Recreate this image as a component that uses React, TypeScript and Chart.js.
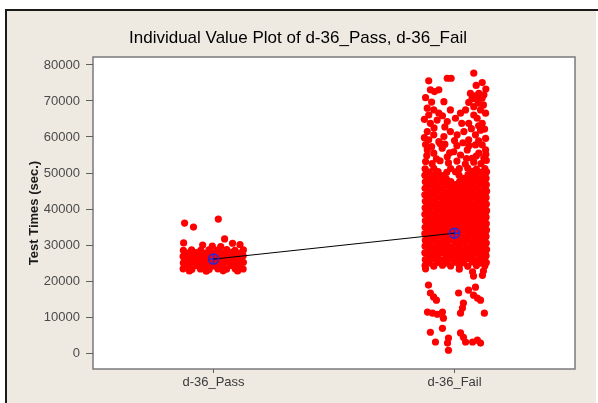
import React, { useEffect, useRef } from 'react';
import { Chart, registerables } from 'chart.js';

Chart.register(...registerables);

const chartTitle = 'Individual Value Plot of d-36_Pass, d-36_Fail';
const yAxisLabel = 'Test Times (sec.)';
const categories = ['d-36_Pass', 'd-36_Fail'];
const yTicks = [0, 10000, 20000, 30000, 40000, 50000, 60000, 70000, 80000];
const groupMeans = [26100, 33300];

// Individual values: [jitter within the category, test time in seconds]
const passPoints: [number, number][] = [
  [-0.126, 23400], [-0.09, 23250], [-0.054, 23350], [-0.018, 23200], [0.018, 23400], [0.054, 23300], [0.09, 23450], [0.123, 23350],
  [-0.108, 24150], [-0.072, 24300], [-0.036, 24100], [0.0, 24250], [0.036, 24200], [0.072, 24350], [0.106, 24150],
  [-0.125, 25050], [-0.091, 25200], [-0.053, 25000], [-0.019, 25150], [0.017, 25100], [0.055, 25250], [0.089, 25050], [0.124, 25200],
  [-0.107, 25950], [-0.073, 26100], [-0.035, 25900], [0.001, 26050], [0.037, 26000], [0.071, 26150], [0.107, 25950],
  [-0.126, 26850], [-0.09, 27000], [-0.054, 26800], [-0.018, 26950], [0.018, 26900], [0.054, 27050], [0.09, 26850], [0.123, 27000],
  [-0.108, 27750], [-0.072, 27900], [-0.036, 27700], [0.0, 27850], [0.036, 27800], [0.072, 27950], [0.106, 27750],
  [-0.125, 28550], [-0.091, 28700], [-0.053, 28500], [-0.019, 28650], [0.017, 28600], [0.055, 28750], [0.089, 28500], [0.124, 28650],
  [-0.1, 22800], [-0.03, 22750], [0.04, 22850], [0.1, 22800],
  [-0.124, 30600], [-0.045, 30000], [-0.005, 29700], [0.046, 31700], [0.079, 30500], [0.11, 30100], [0.03, 29600],
  [-0.12, 36100], [-0.083, 35000], [0.02, 37200],
];

const failPoints: [number, number][] = [
  // dense core
  [-0.122, 24300], [-0.086, 24150], [-0.05, 24400], [-0.016, 24200], [0.02, 24350], [0.055, 24100], [0.091, 24300], [0.126, 24250],
  [-0.105, 25000], [-0.069, 25200], [-0.033, 25050], [0.003, 25250], [0.037, 25100], [0.073, 25300], [0.108, 25000], [0.132, 25150],
  [-0.121, 25950], [-0.087, 26100], [-0.049, 25900], [-0.015, 26150], [0.021, 26000], [0.054, 26200], [0.092, 25950], [0.125, 26100],
  [-0.104, 26850], [-0.07, 27000], [-0.034, 26800], [0.002, 26950], [0.038, 26900], [0.072, 27050], [0.107, 26850], [0.131, 27000],
  [-0.123, 27850], [-0.085, 27700], [-0.051, 27900], [-0.017, 27750], [0.019, 27850], [0.056, 27700], [0.09, 27900], [0.127, 27800],
  [-0.106, 28650], [-0.068, 28800], [-0.032, 28600], [0.004, 28750], [0.036, 28700], [0.074, 28850], [0.109, 28650], [0.133, 28750],
  [-0.122, 29700], [-0.086, 29550], [-0.05, 29650], [-0.016, 29500], [0.02, 29700], [0.055, 29600], [0.091, 29750], [0.126, 29550],
  [-0.105, 30450], [-0.069, 30600], [-0.033, 30400], [0.003, 30550], [0.037, 30500], [0.073, 30650], [0.108, 30400], [0.132, 30550],
  [-0.121, 31350], [-0.087, 31500], [-0.049, 31300], [-0.015, 31450], [0.021, 31400], [0.054, 31550], [0.092, 31300], [0.125, 31450],
  [-0.104, 32250], [-0.07, 32400], [-0.034, 32200], [0.002, 32350], [0.038, 32300], [0.072, 32450], [0.107, 32200], [0.131, 32350],
  [-0.123, 33150], [-0.085, 33300], [-0.051, 33100], [-0.017, 33250], [0.019, 33200], [0.056, 33350], [0.09, 33100], [0.127, 33250],
  [-0.106, 34050], [-0.068, 34200], [-0.032, 34000], [0.004, 34150], [0.036, 34100], [0.074, 34250], [0.109, 34000], [0.133, 34150],
  [-0.122, 34950], [-0.086, 35100], [-0.05, 34900], [-0.016, 35050], [0.02, 35000], [0.055, 35150], [0.091, 34900], [0.126, 35050],
  [-0.105, 35850], [-0.069, 36000], [-0.033, 35800], [0.003, 35950], [0.037, 35900], [0.073, 36050], [0.108, 35800], [0.132, 35950],
  [-0.121, 36750], [-0.087, 36900], [-0.049, 36700], [-0.015, 36850], [0.021, 36800], [0.054, 36950], [0.092, 36700], [0.125, 36850],
  [-0.104, 37650], [-0.07, 37800], [-0.034, 37600], [0.002, 37750], [0.038, 37700], [0.072, 37850], [0.107, 37600], [0.131, 37750],
  [-0.123, 38550], [-0.085, 38700], [-0.051, 38500], [-0.017, 38650], [0.019, 38600], [0.056, 38750], [0.09, 38500], [0.127, 38650],
  [-0.106, 39450], [-0.068, 39600], [-0.032, 39400], [0.004, 39550], [0.036, 39500], [0.074, 39650], [0.109, 39400], [0.133, 39550],
  [-0.122, 40350], [-0.086, 40500], [-0.05, 40300], [-0.016, 40450], [0.02, 40400], [0.055, 40550], [0.091, 40300], [0.126, 40450],
  [-0.105, 41250], [-0.069, 41400], [-0.033, 41200], [0.003, 41350], [0.037, 41300], [0.073, 41450], [0.108, 41200], [0.132, 41350],
  [-0.121, 42150], [-0.087, 42300], [-0.049, 42100], [-0.015, 42250], [0.021, 42200], [0.054, 42350], [0.092, 42100], [0.125, 42250],
  [-0.104, 43050], [-0.07, 43200], [-0.034, 43000], [0.002, 43150], [0.038, 43100], [0.072, 43250], [0.107, 43000], [0.131, 43150],
  [-0.123, 43950], [-0.085, 44100], [-0.051, 43900], [-0.017, 44050], [0.019, 44000], [0.056, 44150], [0.09, 43900], [0.127, 44050],
  [-0.106, 44850], [-0.068, 45000], [-0.032, 44800], [0.004, 44950], [0.036, 44900], [0.074, 45050], [0.109, 44800], [0.133, 44950],
  [-0.122, 45750], [-0.086, 45900], [-0.05, 45700], [-0.016, 45850], [0.02, 45800], [0.055, 45950], [0.091, 45700], [0.126, 45850],
  [-0.105, 46650], [-0.069, 46800], [-0.033, 46600], [0.003, 46750], [0.037, 46700], [0.073, 46850], [0.108, 46600], [0.132, 46750],
  [-0.121, 47550], [-0.087, 47700], [-0.049, 47500], [-0.015, 47650], [0.021, 47600], [0.054, 47750], [0.092, 47500], [0.125, 47650],
  [-0.104, 48450], [-0.07, 48600], [-0.034, 48400], [0.038, 48500], [0.072, 48650], [0.107, 48400], [0.131, 48550],
  [-0.123, 49350], [-0.085, 49500], [-0.051, 49300], [0.019, 49400], [0.056, 49550], [0.09, 49300], [0.127, 49450],
  [-0.106, 50250], [-0.068, 50400], [-0.032, 50200], [0.004, 50350], [0.074, 50450], [0.109, 50200], [0.133, 50350],
  [-0.122, 51150], [-0.086, 51300], [-0.016, 51250], [0.02, 51200], [0.055, 51350], [0.091, 51100], [0.126, 51250],
  // upper spread
  [-0.12, 53200], [-0.093, 52600], [-0.06, 53400], [-0.025, 52800], [0.01, 53300], [0.045, 52500], [0.08, 53000], [0.11, 52600], [0.132, 53500],
  [-0.113, 56400], [-0.086, 55500], [-0.051, 56900], [-0.03, 54500], [-0.003, 55900], [0.025, 55000], [0.053, 56400], [0.073, 54100],
  [0.101, 55500], [0.129, 56400], [0.122, 54100], [-0.04, 58000], [0.01, 57600], [0.035, 58400],
  [-0.115, 54800], [-0.075, 53900], [-0.02, 55600], [0.05, 54000], [0.09, 54700], [0.13, 55200],
  [-0.095, 57300], [-0.06, 58200], [0.0, 59000], [0.06, 57600], [0.1, 58900], [-0.125, 59800], [-0.12, 57900],
  [-0.113, 61500], [-0.086, 60600], [-0.107, 59200], [-0.065, 58700], [-0.044, 60100], [-0.017, 61500], [0.011, 60600], [0.039, 61500],
  [0.059, 59200], [0.087, 60600], [0.108, 61900], [0.129, 59600], [0.115, 57800], [0.087, 57800],
  [-0.085, 62500], [-0.04, 62800], [0.07, 62300], [0.1, 63100], [0.125, 62200], [0.03, 63800],
  [-0.125, 64900], [-0.05, 65900], [0.08, 66100], [0.12, 68900], [0.1, 69400], [-0.095, 69700], [-0.12, 70900],
  [-0.113, 68000], [-0.107, 66100], [-0.086, 67500], [-0.065, 66600], [-0.1, 63800], [-0.072, 64700],
  [-0.017, 67500], [0.004, 65200], [0.025, 66600], [0.046, 67500], [-0.03, 64300],
  [0.08, 68400], [0.108, 67500], [0.129, 66600], [0.094, 65200], [0.115, 63800], [0.059, 63800],
  [0.066, 72100], [0.087, 71400], [0.101, 72100], [0.073, 70600], [0.094, 70300], [0.115, 70800], [0.122, 71700], [0.059, 69600],
  [-0.044, 69800], [-0.1, 73100], [-0.083, 72600], [-0.065, 73100], [0.13, 73300], [0.09, 74300],
  [-0.107, 75600], [-0.03, 76300], [-0.014, 76300], [0.08, 77700], [0.115, 75100],
  // lower spread
  [-0.12, 23400], [0.02, 23300], [0.075, 22600], [0.12, 22800], [0.079, 21400], [0.116, 21600],
  [-0.108, 18900], [-0.1, 16700], [-0.087, 15600], [-0.075, 14700], [0.017, 16700], [0.058, 17500], [0.087, 18300],
  [0.079, 16100], [0.095, 15300], [0.108, 14700], [0.037, 13900], [0.033, 12500], [0.025, 11100],
  [-0.112, 11400], [-0.091, 11100], [-0.071, 10800], [-0.05, 11400], [-0.046, 9700], [0.124, 11100],
  [-0.1, 5800], [-0.05, 6900], [-0.079, 3100], [-0.025, 4200], [-0.029, 2800], [0.025, 5600], [0.037, 4400],
  [0.046, 3100], [0.075, 3100], [0.095, 3600], [0.108, 2800], [-0.025, 800],
];

const W = 598;
const H = 403;
const FONT = '"Liberation Sans", Arial, sans-serif';

const backdrop = {
  id: 'backdrop',
  beforeDraw(chart: any) {
    const { ctx, chartArea: a } = chart;
    ctx.save();
    ctx.fillStyle = '#ffffff';
    ctx.fillRect(0, 0, W, H);
    ctx.fillStyle = '#EEEAE1';
    ctx.fillRect(5, 9, 591, H - 9);
    ctx.strokeStyle = '#1a1a1a';
    ctx.lineWidth = 2;
    ctx.beginPath();
    ctx.moveTo(6, H);
    ctx.lineTo(6, 10);
    ctx.lineTo(W, 10);
    ctx.stroke();
    ctx.fillStyle = '#ffffff';
    ctx.fillRect(a.left, a.top, a.right - a.left, a.bottom - a.top);
    ctx.strokeStyle = '#7a7a7a';
    ctx.lineWidth = 1.5;
    ctx.strokeRect(a.left, a.top, a.right - a.left, a.bottom - a.top);

    ctx.fillStyle = '#000000';
    ctx.font = `17px ${FONT}`;
    ctx.textAlign = 'center';
    ctx.textBaseline = 'middle';
    ctx.fillText(chartTitle, 298, 38);

    ctx.translate(34, (a.top + a.bottom) / 2);
    ctx.rotate(-Math.PI / 2);
    ctx.font = `bold 13px ${FONT}`;
    ctx.fillStyle = '#1a1a1a';
    ctx.fillText(yAxisLabel, 0, 0);
    ctx.restore();
  },
};

export default function App() {
  const canvasRef = useRef<HTMLCanvasElement | null>(null);

  useEffect(() => {
    const canvas = canvasRef.current;
    if (!canvas) return;
    const red = '#FF0000';
    const blue = '#2828D8';
    const chart = new Chart(canvas, {
      type: 'scatter',
      data: {
        datasets: [
          {
            type: 'line',
            data: groupMeans.map((v, i) => ({ x: i, y: v })),
            borderColor: '#000000',
            borderWidth: 1,
            pointStyle: 'circle',
            pointRadius: 5,
            pointBackgroundColor: 'rgba(0,0,0,0)',
            pointBorderColor: blue,
            pointBorderWidth: 1.5,
            order: 0,
          } as any,
          {
            data: groupMeans.map((v, i) => ({ x: i, y: v })),
            pointStyle: 'cross',
            pointRadius: 5,
            borderColor: blue,
            borderWidth: 1.5,
            order: 0,
          },
          {
            data: passPoints.map(([j, v]) => ({ x: 0 + j, y: v })),
            backgroundColor: red,
            borderWidth: 0,
            pointRadius: 3.6,
            order: 1,
          },
          {
            data: failPoints.map(([j, v]) => ({ x: 1 + j, y: v })),
            backgroundColor: red,
            borderWidth: 0,
            pointRadius: 3.6,
            order: 1,
          },
        ],
      },
      options: {
        responsive: false,
        animation: false,
        devicePixelRatio: 1,
        events: [],
        layout: { padding: { top: 57, right: 23, left: 0, bottom: 0 } },
        plugins: { legend: { display: false }, tooltip: { enabled: false }, title: { display: false } },
        scales: {
          x: {
            type: 'linear',
            min: -0.5,
            max: 1.5,
            afterBuildTicks: (s: any) => {
              s.ticks = categories.map((_, i) => ({ value: i }));
            },
            afterFit: (s: any) => {
              s.height = 34;
            },
            ticks: {
              callback: (v: any) => categories[Math.round(Number(v))] ?? '',
              color: '#3a3a3a',
              font: { family: FONT, size: 13 },
              padding: 2,
              maxRotation: 0,
            },
            grid: { drawOnChartArea: false, drawTicks: true, tickLength: 4, color: '#606060' },
            border: { display: false },
          },
          y: {
            type: 'linear',
            min: -4400,
            max: 82200,
            afterBuildTicks: (s: any) => {
              s.ticks = yTicks.map((v) => ({ value: v }));
            },
            afterFit: (s: any) => {
              s.width = 93;
            },
            ticks: {
              callback: (v: any) => String(v),
              color: '#4a4a4a',
              font: { family: FONT, size: 13 },
              padding: 6,
            },
            grid: { drawOnChartArea: false, drawTicks: true, tickLength: 7, color: '#606060' },
            border: { display: false },
          },
        },
      },
      plugins: [backdrop],
    });
    return () => chart.destroy();
  }, []);

  return (
    <div style={{ position: 'fixed', left: 0, top: 0, width: W, height: H }}>
      <canvas ref={canvasRef} width={W} height={H} style={{ width: W, height: H, display: 'block' }} />
    </div>
  );
}
